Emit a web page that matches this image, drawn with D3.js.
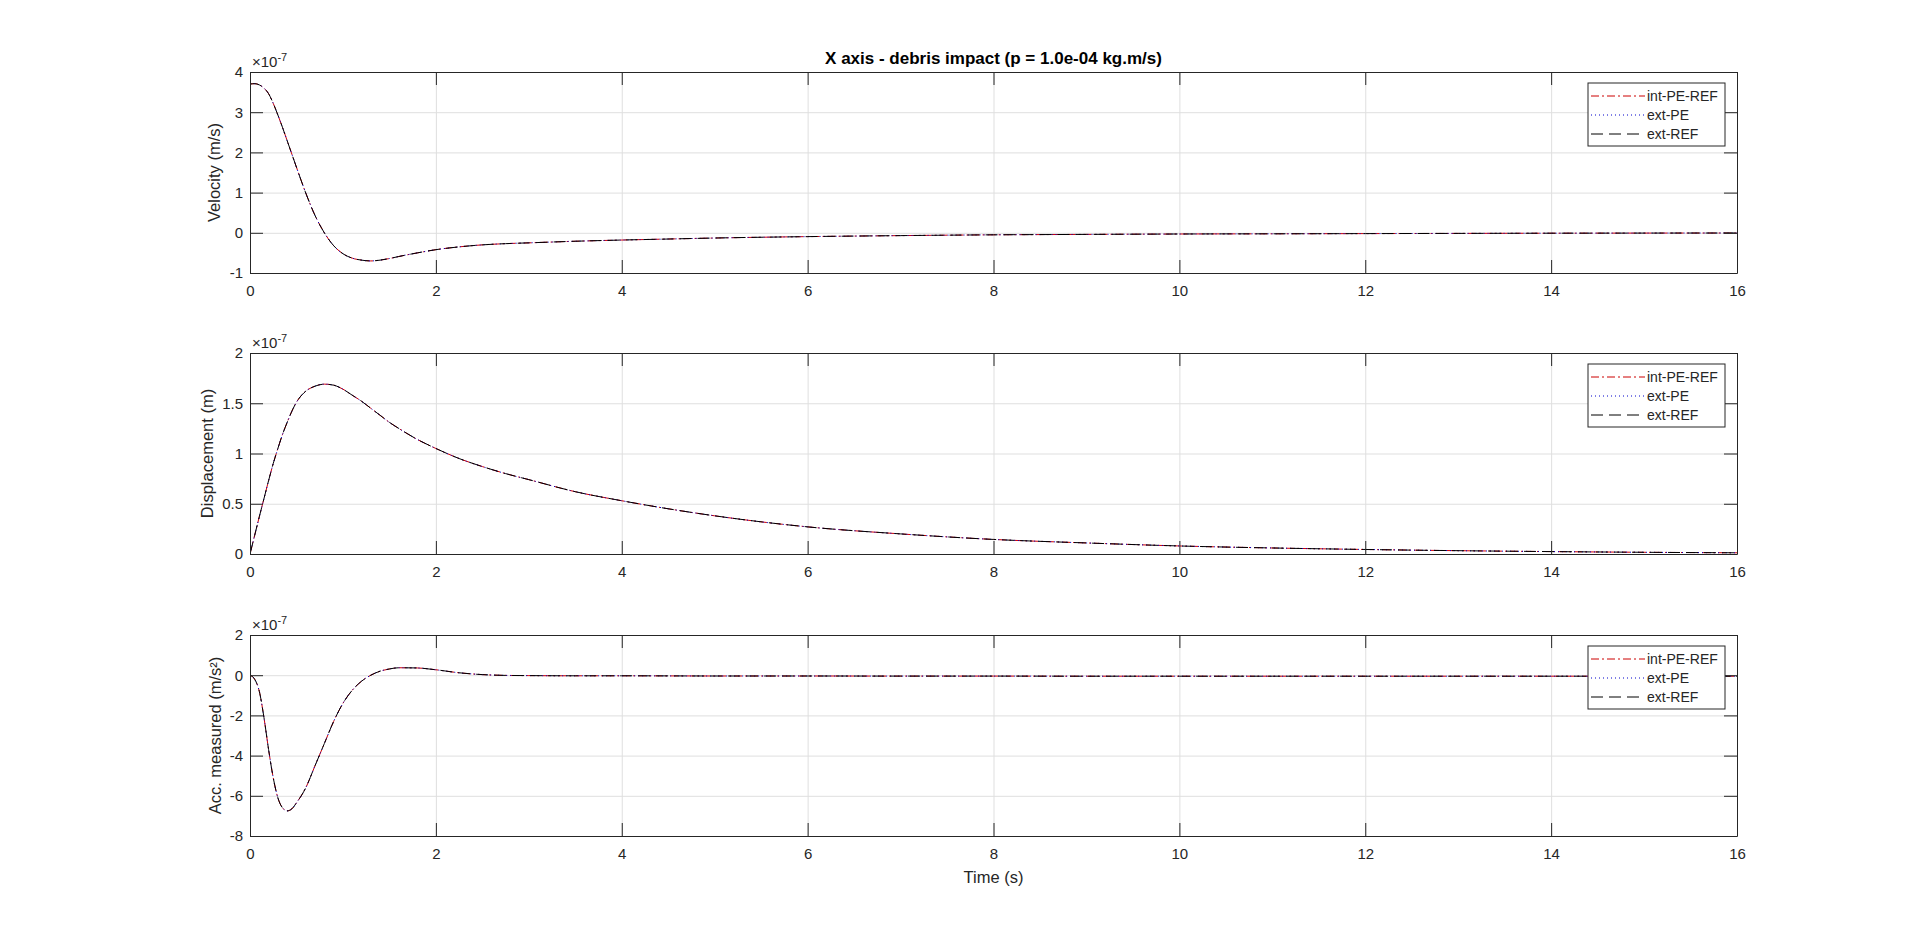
<!DOCTYPE html>
<html>
<head>
<meta charset="utf-8">
<script src="https://cdn.jsdelivr.net/npm/d3@7"></script>
<style>
  body { margin: 0; background: #fff; }
  svg { display: block; font-family: "Liberation Sans", Arial, Helvetica, sans-serif; }
</style>
</head>
<body>
<svg id="chart"></svg>
<script>
// time samples (s) shared by every panel
const timeS = [0, 0.05, 0.1, 0.15, 0.2, 0.25, 0.3, 0.35, 0.4, 0.45, 0.5, 0.6, 0.7, 0.8, 0.9, 1.0,
  1.1, 1.2, 1.3, 1.4, 1.5, 1.6, 1.8, 2.0, 2.25, 2.5, 2.75, 3, 3.5, 4, 4.5, 5, 6, 7, 8, 9, 10,
  11, 12, 13, 14, 15, 16];

// values in units of 1e-7 (the three estimators overlap in the picture)
const velocity = [3.70, 3.71, 3.68, 3.60, 3.46, 3.22, 2.93, 2.62, 2.29, 1.96, 1.63, 0.99, 0.43,
  0.0, -0.32, -0.52, -0.63, -0.68, -0.70, -0.68, -0.64, -0.59, -0.50, -0.42, -0.35, -0.30, -0.27,
  -0.25, -0.21, -0.18, -0.155, -0.13, -0.095, -0.07, -0.05, -0.04, -0.03, -0.025, -0.02, -0.015,
  -0.01, -0.007, -0.005];

const displacement = [0, 0.185, 0.37, 0.55, 0.73, 0.90, 1.05, 1.19, 1.31, 1.42, 1.51, 1.62, 1.67,
  1.69, 1.68, 1.64, 1.58, 1.52, 1.45, 1.38, 1.31, 1.25, 1.14, 1.05, 0.95, 0.87, 0.80, 0.74, 0.62,
  0.53, 0.45, 0.38, 0.27, 0.20, 0.145, 0.11, 0.08, 0.06, 0.045, 0.033, 0.024, 0.017, 0.012];

const acceleration = [0, -0.2, -0.8, -2.1, -3.7, -5.1, -6.1, -6.6, -6.75, -6.65, -6.35, -5.6, -4.5,
  -3.4, -2.3, -1.4, -0.75, -0.3, 0.0, 0.2, 0.31, 0.37, 0.36, 0.27, 0.12, 0.03, -0.01, -0.02, -0.03,
  -0.03, -0.035, -0.04, -0.04, -0.045, -0.045, -0.05, -0.05, -0.05, -0.05, -0.05, -0.05, -0.05, -0.05];

const seriesNames = ['int-PE-REF', 'ext-PE', 'ext-REF'];
const xTicks = [0, 2, 4, 6, 8, 10, 12, 14, 16];
const velTicks = [-1, 0, 1, 2, 3, 4];
const dispTicks = [0, 0.5, 1, 1.5, 2];
const accTicks = [-8, -6, -4, -2, 0, 2];
const yLabels = ['Velocity (m/s)', 'Displacement (m)', 'Acc. measured (m/s\u00B2)'];
const titleText = 'X axis - debris impact (p = 1.0e-04 kg.m/s)';

const width = 1920;
const height = 940;
const left = 250;
const right = 1737;
const plotH = 201;
const tops = [72, 353, 635];
const ink = '#262626';

const seriesStyle = [
  { color: '#cc0000', dash: '8,3,2,3' },
  { color: '#0000cc', dash: '1,3' },
  { color: '#000000', dash: '12,6' }
];

const panels = [
  { values: velocity, domain: [-1, 4], ticks: velTicks, label: yLabels[0], labelX: 220 },
  { values: displacement, domain: [0, 2], ticks: dispTicks, label: yLabels[1], labelX: 213 },
  { values: acceleration, domain: [-8, 2], ticks: accTicks, label: yLabels[2], labelX: 221 }
];

const svg = d3.select('#chart')
  .attr('width', width)
  .attr('height', height);

const x = d3.scaleLinear().domain([0, 16]).range([left, right]);

panels.forEach((p, i) => {
  const top = tops[i];
  const bottom = top + plotH;
  const y = d3.scaleLinear().domain(p.domain).range([bottom, top]);
  const g = svg.append('g');

  // grid
  g.append('g')
    .attr('transform', 'translate(0,' + bottom + ')')
    .call(d3.axisBottom(x).tickValues(xTicks).tickSize(-plotH).tickFormat(''))
    .call(a => a.select('.domain').remove())
    .selectAll('line').attr('stroke', '#dfdfdf');

  g.append('g')
    .attr('transform', 'translate(' + left + ',0)')
    .call(d3.axisLeft(y).tickValues(p.ticks).tickSize(-(right - left)).tickFormat(''))
    .call(a => a.select('.domain').remove())
    .selectAll('line').attr('stroke', '#dfdfdf');

  // data
  g.append('clipPath').attr('id', 'clip' + i)
    .append('rect')
      .attr('x', left).attr('y', top)
      .attr('width', right - left).attr('height', plotH);

  const line = d3.line()
    .x((d, j) => x(timeS[j]))
    .y(d => y(d))
    .curve(d3.curveMonotoneX);

  seriesStyle.forEach(s => {
    g.append('path')
      .datum(p.values)
      .attr('clip-path', 'url(#clip' + i + ')')
      .attr('fill', 'none')
      .attr('stroke', s.color)
      .attr('stroke-width', 1)
      .attr('stroke-dasharray', s.dash)
      .attr('d', line);
  });

  // axes (box with inward ticks on all sides)
  const styleAxis = a => {
    a.select('.domain').attr('stroke', ink);
    a.selectAll('.tick line').attr('stroke', ink);
    a.selectAll('.tick text').attr('fill', ink).style('font-size', '15px');
    a.attr('font-family', null);
  };

  g.append('g')
    .attr('transform', 'translate(0,' + bottom + ')')
    .call(d3.axisBottom(x).tickValues(xTicks).tickSizeInner(-13).tickSizeOuter(0)
      .tickPadding(12).tickFormat(d => String(d)))
    .call(styleAxis);

  g.append('g')
    .attr('transform', 'translate(0,' + top + ')')
    .call(d3.axisTop(x).tickValues(xTicks).tickSizeInner(-13).tickSizeOuter(0).tickFormat(''))
    .call(styleAxis);

  g.append('g')
    .attr('transform', 'translate(' + left + ',0)')
    .call(d3.axisLeft(y).tickValues(p.ticks).tickSizeInner(-13).tickSizeOuter(0)
      .tickPadding(7).tickFormat(d => String(d)))
    .call(styleAxis);

  g.append('g')
    .attr('transform', 'translate(' + right + ',0)')
    .call(d3.axisRight(y).tickValues(p.ticks).tickSizeInner(-13).tickSizeOuter(0).tickFormat(''))
    .call(styleAxis);

  // exponent
  const ex = g.append('text')
    .attr('x', left + 2)
    .attr('y', top - 5)
    .attr('fill', ink)
    .style('font-size', '15px');
  ex.append('tspan').text('\u00D710');
  ex.append('tspan').attr('dy', -6).style('font-size', '11px').text('-7');

  // y label
  g.append('text')
    .attr('transform', 'translate(' + p.labelX + ',' + (top + plotH / 2) + ') rotate(-90)')
    .attr('text-anchor', 'middle')
    .attr('fill', ink)
    .style('font-size', '16.5px')
    .text(p.label);

  // legend
  const lw = 137, lh = 63;
  const lx = right - 12 - lw;
  const ly = top + 11;
  const lg = g.append('g').attr('transform', 'translate(' + lx + ',' + ly + ')');
  lg.append('rect')
    .attr('width', lw).attr('height', lh)
    .attr('fill', '#fff').attr('stroke', ink).attr('stroke-width', 1);
  seriesNames.forEach((name, k) => {
    const ry = 13 + k * 19;
    lg.append('line')
      .attr('x1', 3).attr('x2', 57).attr('y1', ry).attr('y2', ry)
      .attr('stroke', seriesStyle[k].color)
      .attr('stroke-dasharray', seriesStyle[k].dash);
    lg.append('text')
      .attr('x', 59).attr('y', ry).attr('dy', '0.35em')
      .attr('fill', ink)
      .style('font-size', '14px')
      .text(name);
  });
});

// title and x label
svg.append('text')
  .attr('x', (left + right) / 2)
  .attr('y', 64)
  .attr('text-anchor', 'middle')
  .attr('fill', '#000')
  .style('font-size', '17px')
  .style('font-weight', 'bold')
  .text(titleText);

svg.append('text')
  .attr('x', (left + right) / 2)
  .attr('y', tops[2] + plotH + 47)
  .attr('text-anchor', 'middle')
  .attr('fill', ink)
  .style('font-size', '16.5px')
  .text('Time (s)');
</script>
</body>
</html>
